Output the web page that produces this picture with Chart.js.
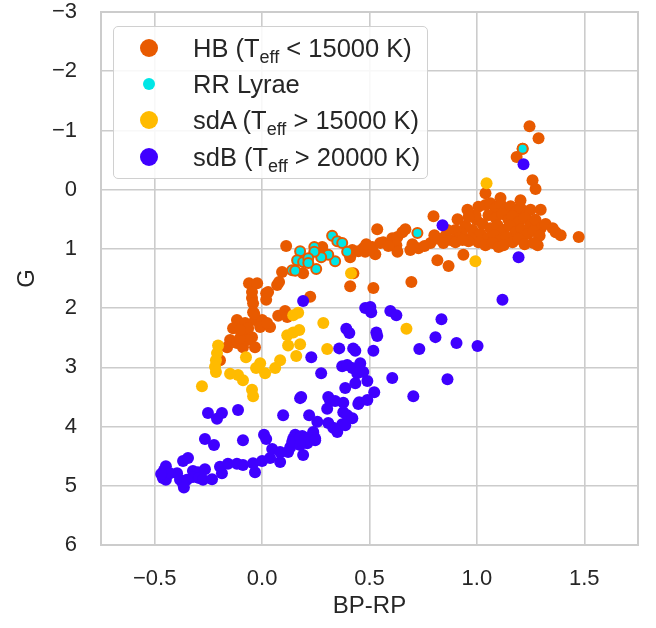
<!DOCTYPE html>
<html>
<head>
<meta charset="utf-8">
<script src="https://cdn.jsdelivr.net/npm/chart.js@4"></script>
<style>
  body { margin: 0; background: #fff; }
  #wrap { position: relative; width: 656px; height: 628px; }
  #legend {
    position: absolute; left: 113px; top: 26px; width: 313px; height: 151px;
    border: 1px solid #d0d0d0; border-radius: 5px; background: rgba(255,255,255,0.85);
    font-family: "Liberation Sans", Arial, sans-serif; font-size: 25.5px; color: #262626;
  }
  .item { position: absolute; left: 0; height: 36px; line-height: 36px; white-space: nowrap; }
  .dot { position: absolute; border-radius: 50%; }
  .txt { position: absolute; left: 79px; top: 0; }
  .txt sub { font-size: 18px; vertical-align: -6px; line-height: 0; }
</style>
</head>
<body>
<div id="wrap">
  <canvas id="cmd" width="656" height="628"></canvas>
  <div id="legend"></div>
</div>
<script>
// colour (BP-RP) and absolute G magnitude
const hbPoints = [
  [1.245,-1.07],[1.287,-0.87],[1.185,-0.55],[1.213,-0.69],[1.259,-0.16],[1.273,-0.01],[1.040,0.06],
  [1.007,0.29],[1.040,0.26],[1.063,0.23],[1.087,0.31],[1.110,0.24],[1.133,0.34],[1.157,0.28],[1.180,0.38],
  [1.203,0.31],[1.227,0.43],[1.250,0.34],[1.054,0.43],[1.087,0.48],[1.119,0.41],[1.147,0.51],[1.166,0.45],
  [1.194,0.55],[1.222,0.48],[1.250,0.60],[1.273,0.51],[1.297,0.65],[1.320,0.58],[0.998,0.51],[1.026,0.58],
  [1.063,0.65],[1.096,0.60],[1.124,0.68],[1.152,0.61],[1.180,0.72],[1.208,0.67],[1.236,0.75],[1.264,0.70],
  [1.292,0.78],[0.979,0.68],[1.017,0.75],[1.049,0.82],[1.082,0.77],[1.110,0.85],[1.138,0.80],[1.166,0.89],
  [1.194,0.83],[1.222,0.92],[1.007,0.89],[1.040,0.94],[1.073,0.90],[1.101,0.97],[0.970,0.82],[0.947,0.61],
  [0.928,0.73],[0.961,0.87],[0.900,0.68],[0.914,0.82],[0.877,0.85],[0.854,0.78],[1.353,0.65],[1.367,0.72],
  [1.390,0.77],[1.474,0.80],[1.297,0.34],[1.283,0.94],[1.124,0.94],[1.264,0.90],[0.937,1.10],[0.993,0.43],
  [1.203,0.18],[1.110,0.14],
  [0.536,0.67],[0.471,0.99],[0.513,0.97],[0.527,1.09],[0.550,0.90],[0.564,0.89],[0.606,0.82],[0.630,0.80],
  [0.653,0.72],[0.667,0.67],[0.625,0.94],[0.630,1.05],[0.700,0.92],[0.728,0.99],[0.798,0.45],[0.784,0.90],
  [0.802,0.77],[0.821,0.83],[0.844,0.90],[0.863,0.68],[0.910,0.50],[0.900,0.89],[0.933,0.85],[0.956,0.34],
  [0.961,0.46],[0.816,1.19],[0.868,1.29],[0.695,1.56],[0.518,1.66],[0.410,1.63],[0.690,1.02],[0.756,0.95],
  [0.588,0.95],[0.420,1.02],[0.448,1.04],[0.480,1.05],[0.504,1.02],[0.410,1.14],[0.425,1.41],[0.485,0.92],
  [0.112,0.95],[0.093,1.39],[0.191,1.41],[0.280,0.97],[0.224,1.81],[-0.061,1.58],[-0.023,1.58],[-0.047,1.73],
  [-0.047,1.83],[-0.042,1.92],[-0.042,2.07],[0.019,1.75],[0.028,1.73],[0.019,1.86],[0.070,1.61],[0.079,1.56],
  [-0.033,2.20],[0.000,2.20],[-0.009,2.32],[0.037,2.32],[0.023,2.25],[0.075,2.13],[0.107,2.05],[0.117,2.15],
  [-0.117,2.20],[-0.079,2.25],[-0.135,2.34],[-0.093,2.42],[-0.065,2.34],[-0.047,2.49],[-0.149,2.54],[-0.117,2.59],
  [-0.163,2.66],[-0.089,2.66],[-0.033,2.66],[-0.070,2.54],[-0.103,2.51],[-0.196,2.88],[-0.037,2.09],[-0.103,2.37]
];
const rrPoints = [
  [0.326,0.78],[0.350,0.87],[0.373,0.90],[0.396,1.05],[0.340,1.21],[0.308,1.10],[0.275,1.14],[0.243,0.97],
  [0.243,1.05],[0.252,1.34],[0.177,1.04],[0.163,1.19],[0.191,1.22],[0.215,1.16],[0.215,1.24],[0.140,1.36],
  [0.154,1.37],[0.723,0.73],[1.213,-0.69]
];
const sdaPoints = [
  [1.045,-0.11],[0.993,1.21],[0.414,1.41],[0.672,2.35],[0.285,2.25],[0.303,2.69],[0.145,2.12],[0.168,2.08],
  [0.117,2.46],[0.145,2.41],[0.173,2.37],[0.121,2.63],[0.177,2.61],[0.159,2.81],[0.084,2.88],[0.061,3.01],
  [0.014,3.10],[-0.009,2.93],[-0.028,3.01],[-0.075,2.83],[-0.089,3.22],[-0.112,3.13],[-0.149,3.11],[-0.047,3.38],
  [-0.042,3.49],[-0.205,2.63],[-0.210,2.76],[-0.215,2.88],[-0.219,2.99],[-0.215,3.08],[-0.280,3.32]
];
const sdbPoints = [
  [1.217,-0.43],[0.840,0.60],[1.194,1.14],[1.119,1.86],[0.191,1.88],[0.480,2.00],[0.504,1.98],[0.508,2.07],
  [0.597,2.05],[0.625,2.12],[0.835,2.19],[0.392,2.35],[0.406,2.42],[0.532,2.41],[0.536,2.47],[0.807,2.49],
  [0.905,2.59],[1.003,2.64],[0.732,2.69],[0.359,2.68],[0.424,2.68],[0.434,2.72],[0.518,2.72],[0.229,2.83],
  [0.373,2.98],[0.396,2.96],[0.420,3.01],[0.457,2.93],[0.471,3.08],[0.443,3.10],[0.490,3.23],[0.275,3.10],
  [0.606,3.18],[0.863,3.20],[0.387,3.35],[0.434,3.27],[0.522,3.42],[0.704,3.49],[0.182,3.50],[0.308,3.50],
  [0.317,3.57],[0.340,3.57],[0.378,3.60],[0.452,3.59],[0.448,3.62],[0.490,3.55],[0.303,3.70],[0.378,3.76],
  [0.396,3.81],[0.420,3.86],[0.098,3.81],[0.219,3.81],[0.257,3.92],[0.308,3.94],[0.331,4.02],[0.350,4.09],
  [0.373,3.96],[0.387,3.98],[0.238,4.11],[0.154,4.14],[0.187,4.16],[0.145,4.20],[0.215,4.21],[0.247,4.20],
  [-0.252,3.77],[-0.210,3.87],[-0.187,3.77],[-0.112,3.72],[-0.266,4.21],[-0.224,4.31],[-0.089,4.23],[0.009,4.14],
  [0.019,4.21],[-0.368,4.58],[-0.345,4.53],[-0.448,4.67],[-0.457,4.74],[-0.462,4.87],[-0.448,4.90],[-0.396,4.79],
  [-0.382,4.90],[-0.368,4.97],[-0.350,4.90],[-0.322,4.75],[-0.299,4.77],[-0.266,4.72],[-0.322,4.85],[-0.294,4.87],
  [-0.275,4.90],[-0.233,4.89],[-0.196,4.68],[-0.187,4.79],[-0.159,4.63],[-0.117,4.63],[-0.089,4.65],[-0.033,4.77],
  [-0.042,4.62],[0.000,4.58],[0.037,4.53],[0.084,4.60],[0.047,4.38],[0.084,4.43],[0.121,4.43],[0.131,4.35],
  [0.140,4.26],[0.177,4.18],[0.201,4.19],[0.191,4.48],[0.210,4.28],[0.238,4.09],[0.247,4.23],[0.177,3.52],
  [0.177,4.31],[-0.429,4.79],[-0.470,4.80],[-0.364,5.03]
];

const seriesNames = [
  ['HB (T', 'eff', ' < 15000 K)'],
  ['RR Lyrae', '', ''],
  ['sdA (T', 'eff', ' > 15000 K)'],
  ['sdB (T', 'eff', ' > 20000 K)']
];
const xTicks = [-0.5, 0.0, 0.5, 1.0, 1.5];
const yTicks = [-3, -2, -1, 0, 1, 2, 3, 4, 5, 6];

const orange = '#e85a00';
const cyan = '#00e6e6';
const gold = '#ffbb00';
const violet = '#3f00ff';
const ink = '#262626';
const font = '"Liberation Sans", Arial, sans-serif';

const toXY = pts => pts.map(p => ({ x: p[0], y: p[1] }));
const minus = s => s.replace('-', '\u2212');

const frame = {
  id: 'frame',
  beforeDatasetsDraw(chart) {
    const { ctx, chartArea: a } = chart;
    ctx.save();
    ctx.strokeStyle = '#cccccc';
    ctx.lineWidth = 2;
    ctx.strokeRect(a.left, a.top, a.right - a.left, a.bottom - a.top);
    ctx.restore();
  }
};

const chart = new Chart(document.getElementById('cmd'), {
  type: 'scatter',
  data: {
    datasets: [{
      label: seriesNames[0].join(''),
      data: toXY(hbPoints),
      backgroundColor: orange,
      borderColor: orange,
      borderWidth: 0,
      pointRadius: 6,
      order: 4
    }, {
      label: seriesNames[1].join(''),
      data: toXY(rrPoints),
      backgroundColor: cyan,
      borderColor: orange,
      borderWidth: 2,
      pointRadius: 5,
      order: 3
    }, {
      label: seriesNames[2].join(''),
      data: toXY(sdaPoints),
      backgroundColor: gold,
      borderColor: gold,
      borderWidth: 0,
      pointRadius: 6,
      order: 2
    }, {
      label: seriesNames[3].join(''),
      data: toXY(sdbPoints),
      backgroundColor: violet,
      borderColor: violet,
      borderWidth: 0,
      pointRadius: 6,
      order: 1
    }]
  },
  options: {
    responsive: false,
    animation: false,
    events: [],
    layout: { padding: { top: 12, right: 18, left: 0, bottom: 0 } },
    plugins: { legend: { display: false }, tooltip: { enabled: false } },
    scales: {
      x: {
        type: 'linear',
        min: -0.75,
        max: 1.75,
        afterBuildTicks: s => { s.ticks = xTicks.map(v => ({ value: v })); },
        afterFit: s => { s.height = 83; s.paddingLeft = 0; s.paddingRight = 0; },
        grid: { color: '#cccccc', lineWidth: 1.6, drawTicks: false },
        border: { display: false },
        ticks: {
          padding: 21,
          color: ink,
          font: { family: font, size: 22 },
          callback: v => minus(Number(v).toFixed(1))
        },
        title: {
          display: true,
          text: 'BP-RP',
          color: ink,
          font: { family: font, size: 24 },
          padding: { top: 0, bottom: 7 }
        }
      },
      y: {
        type: 'linear',
        reverse: true,
        min: -3,
        max: 6,
        afterBuildTicks: s => { s.ticks = yTicks.map(v => ({ value: v })); },
        afterFit: s => { s.width = 101; s.paddingTop = 0; s.paddingBottom = 0; },
        grid: { color: '#cccccc', lineWidth: 1.6, drawTicks: false },
        border: { display: false },
        ticks: {
          padding: 24,
          color: ink,
          font: { family: font, size: 22 },
          callback: v => minus(String(v))
        },
        title: {
          display: true,
          text: 'G',
          color: ink,
          font: { family: font, size: 24 },
          padding: { top: 13, bottom: 0 }
        }
      }
    }
  },
  plugins: [frame]
});

// legend with subscripts, built from the chart's datasets
const legendBox = document.getElementById('legend');
const rowTops = [3, 39, 75, 112];
chart.data.datasets.forEach((ds, i) => {
  const row = document.createElement('div');
  row.className = 'item';
  row.style.top = rowTops[i] + 'px';
  const dot = document.createElement('span');
  dot.className = 'dot';
  const d = i === 1 ? 12 : 18;
  dot.style.width = d + 'px';
  dot.style.height = d + 'px';
  dot.style.left = (35 - d / 2) + 'px';
  dot.style.top = (18 - d / 2) + 'px';
  dot.style.background = ds.backgroundColor;
  row.appendChild(dot);
  const txt = document.createElement('span');
  txt.className = 'txt';
  const parts = seriesNames[i];
  txt.appendChild(document.createTextNode(parts[0]));
  if (parts[1]) {
    const sub = document.createElement('sub');
    sub.textContent = parts[1];
    txt.appendChild(sub);
  }
  txt.appendChild(document.createTextNode(parts[2]));
  row.appendChild(txt);
  legendBox.appendChild(row);
});
</script>
</body>
</html>
